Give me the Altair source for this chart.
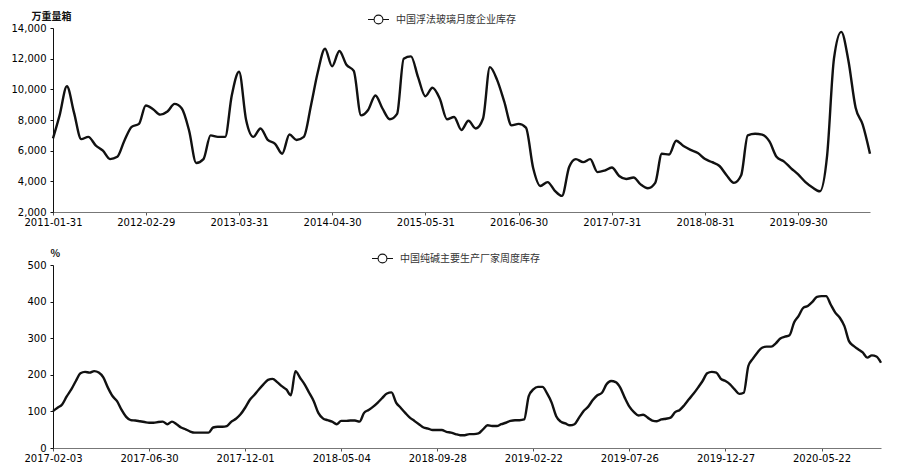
import altair as alt
import pandas as pd

# ---------------- data ----------------
glass_name = "中国浮法玻璃月度企业库存"
glass_unit = "万重量箱"
glass_start = "2011-01-31"  # monthly, month-end
glass_values = [
    6800, 8300, 10200, 8500, 6750, 6900, 6350, 6000, 5450, 5600,
    6650, 7550, 7750, 8950, 8700, 8350, 8550, 9050, 8750, 7300,
    5200, 5450, 7000, 6900, 6900, 9600, 11150, 8000, 6900, 7450,
    6700, 6450, 5800, 7050, 6700, 6900, 9000, 11100, 12650, 11500,
    12500, 11600, 11200, 8300, 8650, 9600, 8750, 8050, 8400, 12000,
    12150, 10800, 9550, 10100, 9400, 8050, 8200, 7350, 7950, 7450,
    8100, 11450, 10600, 9200, 7650, 7750, 7500, 4850, 3700, 3950,
    3400, 3050, 4950, 5450, 5250, 5450, 4600, 4700, 4900, 4350,
    4150, 4250, 3800, 3550, 3900, 5800, 5750, 6650, 6300, 6050,
    5850, 5450, 5250, 5000, 4400, 3900, 4400, 7000, 7100, 7050,
    6600, 5600, 5300, 4850, 4450, 3950, 3600, 3350, 5700, 12000,
    13750, 11900, 8800, 7700, 5800,
]
glass_ticks = ["2011-01-31", "2012-02-29", "2013-03-31", "2014-04-30", "2015-05-31",
               "2016-06-30", "2017-07-31", "2018-08-31", "2019-09-30"]
glass_yticks = [2000, 4000, 6000, 8000, 10000, 12000, 14000]

soda_name = "中国纯碱主要生产厂家周度库存"
soda_unit = "%"
# weekly observations, evenly spaced on the axis; a label every 21 observations
soda_values = [
    101, 110, 119, 141, 160, 183, 204, 208, 206, 210,
    206, 193, 165, 142, 128, 104, 85, 76, 75, 73,
    71, 69, 69, 71, 72, 65, 72, 65, 56, 51,
    45, 42, 42, 42, 42, 56, 58, 58, 60, 72,
    80, 92, 110, 131, 145, 160, 174, 186, 189, 180,
    169, 160, 144, 210, 192, 174, 151, 128, 96, 81,
    76, 72, 65, 74, 74, 75, 75, 72, 96, 104,
    113, 124, 137, 149, 152, 124, 110, 96, 83, 74,
    65, 56, 53, 49, 49, 49, 44, 42, 38, 35,
    35, 38, 38, 40, 51, 62, 60, 60, 65, 69,
    74, 76, 76, 78, 142, 160, 167, 167, 149, 124,
    87, 72, 67, 62, 65, 83, 101, 113, 131, 144,
    151, 174, 183, 180, 165, 137, 113, 98, 89, 91,
    83, 75, 73, 78, 80, 83, 98, 104, 117, 133,
    148, 165, 183, 204, 208, 206, 189, 183, 174, 160,
    148, 151, 224, 244, 261, 274, 277, 277, 286, 299,
    304, 308, 343, 361, 383, 388, 399, 413, 415, 415,
    392, 370, 356, 333, 292, 279, 270, 261, 247, 253,
    250, 233,
]
soda_ticks = ["2017-02-03", "2017-06-30", "2017-12-01", "2018-05-04", "2018-09-28",
              "2019-02-22", "2019-07-26", "2019-12-27", "2020-05-22"]
soda_tick_step = 21
soda_yticks = [0, 100, 200, 300, 400, 500]

# ---------------- tables ----------------
glass_df = pd.DataFrame({
    "date": pd.date_range(glass_start, periods=len(glass_values), freq=pd.offsets.MonthEnd()),
    "value": glass_values,
    "series": glass_name,
})
soda_df = pd.DataFrame({
    "idx": list(range(len(soda_values))),
    "value": soda_values,
    "series": soda_name,
})


def dt(s):
    y, m, d = (int(p) for p in s.split("-"))
    return alt.DateTime(year=y, month=m, date=d)


SYMBOL = "M-1,0H-0.42M0.42,0H1M0.42,0A0.42,0.42,0,1,1,-0.42,0A0.42,0.42,0,1,1,0.42,0Z"
LBL_FONT = "DejaVu Sans"
CJK = "Noto Sans CJK SC"

x_axis_style = dict(
    title=None, labelFont=LBL_FONT, labelFontSize=10, labelColor="#000",
    domainColor="#777", tickColor="#555", tickSize=3, labelPadding=2,
    labelFlush=False, labelOverlap=False,
)


def y_enc(unit, yticks, title_x):
    return alt.Y(
        "value:Q",
        scale=alt.Scale(domain=[yticks[0], yticks[-1]], nice=False),
        axis=alt.Axis(
            title=unit, values=yticks, format=",d",
            labelFont=LBL_FONT, labelFontSize=10, labelColor="#000",
            domainColor="#111", tickColor="#111", tickSize=3, labelPadding=4,
            titleAngle=0, titleAlign="left", titleBaseline="alphabetic",
            titleX=title_x, titleY=-9, titleFont=CJK, titleFontSize=10,
            titleFontWeight="bold", titleColor="#111",
        ),
    )


def color_enc(legend_x, legend_y):
    return alt.Color(
        "series:N",
        scale=alt.Scale(range=["#111111"]),
        legend=alt.Legend(
            title=None, orient="none", legendX=legend_x, legendY=legend_y,
            symbolType=SYMBOL, symbolSize=440, symbolStrokeWidth=1.1,
            symbolFillColor="white", symbolStrokeColor="#222",
            labelFont=CJK, labelFontSize=10, labelColor="#333", labelOffset=6,
            padding=0,
        ),
    )


first, last = glass_df["date"].iloc[0], glass_df["date"].iloc[-1]
top = alt.Chart(glass_df).mark_line(strokeWidth=2.4, interpolate="monotone").encode(
    x=alt.X(
        "date:T",
        scale=alt.Scale(domain=[dt(first.strftime("%Y-%m-%d")), dt(last.strftime("%Y-%m-%d"))]),
        axis=alt.Axis(values=[dt(t) for t in glass_ticks], format="%Y-%m-%d", **x_axis_style),
    ),
    y=y_enc(glass_unit, glass_yticks, -22),
    color=color_enc(314, -20),
).properties(width=817, height=184)

label_array = "[" + ",".join("'%s'" % t for t in soda_ticks) + "]"
bottom = alt.Chart(soda_df).mark_line(strokeWidth=2.4, interpolate="monotone").encode(
    x=alt.X(
        "idx:Q",
        scale=alt.Scale(domain=[0, len(soda_values) - 1], nice=False, zero=False),
        axis=alt.Axis(
            values=[i * soda_tick_step for i in range(len(soda_ticks))],
            labelExpr=label_array + "[round(datum.value / %d)]" % soda_tick_step,
            **x_axis_style,
        ),
    ),
    y=y_enc(soda_unit, soda_yticks, -3),
    color=color_enc(318, -18),
).properties(width=828, height=183)

chart = alt.vconcat(top, bottom, spacing=20).resolve_scale(
    color="independent"
).resolve_legend(color="independent").properties(
    padding={"top": 0, "left": 3, "right": 5, "bottom": 5}
).configure_view(stroke=None).configure_axis(grid=False)

chart.save("out.html", embed_options={"renderer": "svg", "actions": False})
